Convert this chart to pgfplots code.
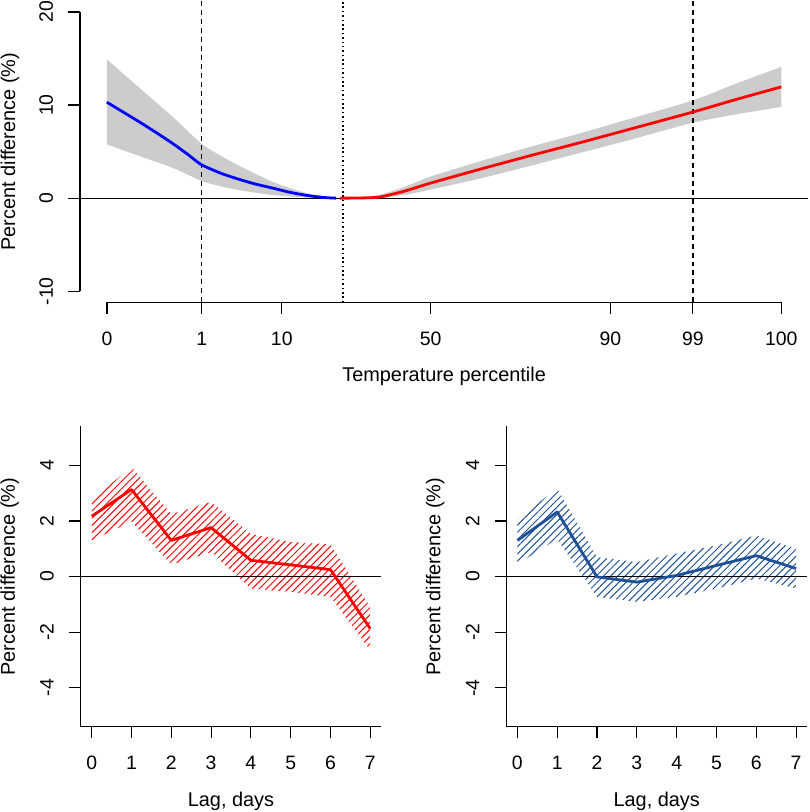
\documentclass[border=0pt]{standalone}
\usepackage{fontspec}
\setmainfont{Liberation Sans}
\usepackage{pgfplots}
\pgfplotsset{compat=1.18}
\usepgfplotslibrary{fillbetween}
\usetikzlibrary{patterns.meta}
\definecolor{bandgray}{RGB}{204,204,204}
\definecolor{lagblue}{RGB}{30,80,150}
\definecolor{rred}{RGB}{255,0,0}
\definecolor{rblue}{RGB}{0,0,255}
\begin{document}
\begin{tikzpicture}
\path (0,0) rectangle (810bp,812bp);
\pgfplotsset{
  rstyle/.style={
    scale only axis, clip=false,
    axis lines=left,
    axis line style={-, line width=1.2bp},
    tick align=outside,
    major tick length=11.5bp,
    every tick/.style={black, line width=1.2bp},
    tick label style={font=\fontsize{19.5}{23}\selectfont},
    label style={font=\fontsize{20}{24}\selectfont},
    xticklabel style={anchor=base, inner sep=0pt},
    yticklabel style={rotate=90, anchor=base, inner sep=0pt},
    xticklabel shift=31.5bp,
    yticklabel shift=15.5bp,
    xlabel style={anchor=base, inner sep=0pt},
    ylabel style={anchor=center, inner sep=0pt},
    minor tick num=0,
  }
}
% ---------------- top panel ----------------
\begin{axis}[rstyle, at={(80bp,510bp)}, anchor=south west, width=729bp, height=302bp,
  xmin=-4, xmax=104, ymin=-11.2, ymax=21.2,
  axis line style={draw=none},
  xtick={0,14.07,25.93,48.0,74.67,86.89,100}, xticklabels={0,1,10,50,90,99,100},
  ytick={-10,0,10,20}, yticklabels={-10,0,10,20},
  xlabel={Temperature percentile}, ylabel={Percent difference (\%)},
  xlabel style={at={(axis description cs:0.5,-0.2632)}},
  ylabel style={at={(axis description cs:-0.096,0.5)}}]
\addplot[name path=up, draw=none, smooth, tension=0.4] coordinates {
 (0,14.9) (4.9,11.8) (9.8,8.7) (14.0,5.85) (17,4.5) (19.7,3.45) (24.6,1.75) (29.6,0.55) (34.5,0)
 (37.5,0.08) (40.4,0.35) (44.1,1.2) (47.9,2.3) (55.3,3.95) (62.7,5.5) (70.1,6.95) (77.0,8.4)
 (86.9,10.5) (93.3,12.3) (100,14.1)};
\addplot[name path=lo, draw=none, smooth, tension=0.4] coordinates {
 (0,5.77) (4.9,4.5) (9.8,3.25) (14.0,1.85) (17,1.25) (19.7,0.85) (24.6,0.33) (29.6,0.08) (34.5,0)
 (40.4,0.0) (44.1,0.35) (47.9,0.9) (55.3,2.1) (62.7,3.45) (70.1,4.85) (77.0,6.15)
 (86.9,8.1) (93.3,9.0) (100,9.8)};
\addplot[bandgray] fill between[of=up and lo];
\draw[line width=1.2bp] (axis cs:-4,-10) -- (axis cs:-4,20);
\draw[line width=1.2bp] (axis cs:0,-11.2) -- (axis cs:100,-11.2);
\draw[line width=1.2bp] (axis cs:-4,0) -- (axis cs:104,0);
\draw[line width=1.4bp, dash pattern=on 5bp off 4bp] (axis cs:14.07,-11.2) -- (axis cs:14.07,21.2);
\draw[line width=1.4bp, dash pattern=on 5bp off 4bp] (axis cs:86.89,-11.2) -- (axis cs:86.89,21.2);
\draw[line width=1.5bp, dash pattern=on 1.6bp off 2.8bp] (axis cs:35.0,-11.2) -- (axis cs:35.0,21.2);
\addplot[rblue, line width=2.8bp, line join=round, smooth, tension=0.4] coordinates {
 (0,10.3) (2.4,9.25) (4.9,8.15) (7.4,7.0) (9.8,5.85) (12,4.7) (14.0,3.6) (17,2.65)
 (19.7,2.0) (22,1.52) (24.6,1.08) (27,0.65) (29.6,0.3) (32,0.08) (34.0,0)};
\addplot[rred, line width=2.8bp, line join=round, smooth, tension=0.4] coordinates {
 (34.5,0) (37.5,0.02) (40.4,0.12) (44.1,0.75) (47.9,1.6) (55.3,3.1) (62.7,4.55)
 (70.1,5.95) (77,7.3) (86.9,9.25) (93.3,10.6) (100,11.95)};
\end{axis}
% ---------------- bottom left ----------------
\begin{axis}[rstyle, at={(80.7bp,85.3bp)}, anchor=south west, width=301bp, height=300.7bp,
  xmin=-0.28, xmax=7.28, ymin=-5.4, ymax=5.4,
  xtick={0,1,2,3,4,5,6,7}, xticklabels={0,1,2,3,4,5,6,7},
  ytick={-4,-2,0,2,4}, yticklabels={-4,-2,0,2,4},
  xlabel={Lag, days}, ylabel={Percent difference (\%)},
  xlabel style={at={(axis description cs:0.5,-0.266)}},
  ylabel style={at={(axis description cs:-0.236,0.5)}}]
\addplot[draw=none, pattern={Lines[angle=45,distance=5.1bp,line width=1bp]}, pattern color=rred] coordinates {
 (0,2.76) (1,3.94) (2,2.24) (3,2.68) (4,1.54) (5,1.24) (6,1.16) (7,-1.1)
 (7,-2.65) (6,-0.73) (5,-0.55) (4,-0.43) (3,0.88) (2,0.43) (1,1.98) (0,1.30)} -- cycle;
\draw[line width=1.2bp] (axis cs:-0.28,0) -- (axis cs:7.28,0);
\addplot[rred, line width=2.8bp, line join=round] coordinates {
 (0,2.17) (1,3.13) (2,1.30) (3,1.76) (4,0.585) (5,0.42) (6,0.25) (7,-1.87)};
\end{axis}
% ---------------- bottom right ----------------
\begin{axis}[rstyle, at={(506.7bp,85.3bp)}, anchor=south west, width=301.3bp, height=300.7bp,
  xmin=-0.28, xmax=7.28, ymin=-5.4, ymax=5.4,
  xtick={0,1,2,3,4,5,6,7}, xticklabels={0,1,2,3,4,5,6,7},
  ytick={-4,-2,0,2,4}, yticklabels={-4,-2,0,2,4},
  xlabel={Lag, days}, ylabel={Percent difference (\%)},
  xlabel style={at={(axis description cs:0.5,-0.266)}},
  ylabel style={at={(axis description cs:-0.236,0.5)}}]
\addplot[draw=none, pattern={Lines[angle=45,distance=5.1bp,line width=1bp]}, pattern color=lagblue] coordinates {
 (0,2.08) (1,3.16) (2,0.7) (3,0.52) (4,0.83) (5,1.12) (6,1.48) (7,1.0)
 (7,-0.43) (6,-0.07) (5,-0.43) (4,-0.73) (3,-0.91) (2,-0.73) (1,1.35) (0,0.45)} -- cycle;
\draw[line width=1.2bp] (axis cs:-0.28,0) -- (axis cs:7.28,0);
\addplot[lagblue, line width=2.8bp, line join=round] coordinates {
 (0,1.30) (1,2.32) (2,-0.01) (3,-0.2) (4,0.04) (5,0.4) (6,0.75) (7,0.29)};
\end{axis}
\end{tikzpicture}
\end{document}
